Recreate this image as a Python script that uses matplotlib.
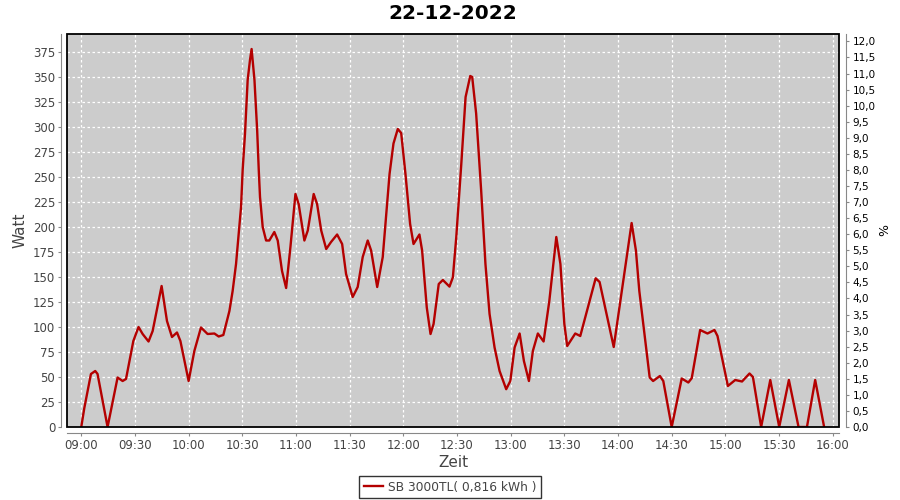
import numpy as np
import pandas as pd
import matplotlib
matplotlib.use('Agg')
import matplotlib.pyplot as plt
import matplotlib.dates as mdates
from matplotlib.patches import Rectangle
from matplotlib.ticker import MultipleLocator, FuncFormatter

# data: minutes after 09:00 and power in Watt
minutes = [0, 1.7, 5.4, 7.8, 9.1, 14.7, 20.3, 23.1, 25.0, 29.1, 32.0, 34.3, 37.6, 39.9,
           44.9, 47.9, 50.7, 53.5, 55.4, 60.0, 63.2, 66.9, 70.6, 74.4, 76.8, 79.4,
           82.8, 84.6, 86.5, 89.3, 90.2, 91.5, 93.0, 94.3, 95.2, 96.8, 98.3, 99.2,
           99.9, 101.4, 103.3, 105.1, 107.9, 109.8, 112.2, 114.5, 116.9, 119.7, 121.5,
           124.7, 126.6, 129.9, 131.8, 134.1, 136.9, 139.6, 143.0, 145.8, 148.0, 151.7,
           154.5, 157.3, 160.1, 162.0, 165.4, 168.5, 172.3, 174.5, 176.9, 178.8, 181.2,
           183.8, 185.7, 189.0, 190.5, 193.1, 195.2, 196.9, 199.8, 202.1, 205.8, 207.7,
           209.6, 212.4, 214.8, 217.4, 218.5, 220.7, 223.5, 225.9, 228.2, 231.0, 233.8,
           237.5, 239.8, 242.2, 245.0, 247.4, 250.2, 252.4, 255.2, 258.4, 261.6, 265.5,
           267.8, 270.0, 271.6, 276.1, 278.9, 284.0, 287.5, 289.7, 297.6, 302.7, 307.6,
           310.0, 311.9, 317.7, 319.6, 323.4, 325.3, 330.0, 335.6, 339.3, 341.2, 345.9,
           350.0, 353.9, 355.6, 361.4, 365.5, 369.3, 373.5, 375.4, 380.0, 385.1, 390.1,
           395.5, 400.9, 405.6, 410.2, 415.2]
watt = [0, 19, 53, 56, 53, 0, 49.5, 46, 48, 86, 100, 93, 85.5, 96,
        141, 106, 90, 94.5, 86, 46, 76, 99.5, 93, 93.5, 90.5, 92,
        116, 136, 163, 220, 257, 293, 347, 367, 378, 347, 297, 257,
        230, 200, 186.5, 186.5, 195, 186.5, 156, 139, 180, 233, 223,
        186.5, 196.5, 233, 223, 196.5, 178, 185, 192.5, 183, 153, 130,
        140, 170, 186.5, 176.5, 140, 170, 253, 283.5, 298, 294, 253,
        203, 183, 192.5, 176.5, 119.6, 93, 103, 143, 147, 140.4, 149.7,
        190, 263, 330, 351, 350, 313.5, 236.6, 163, 113, 79.5, 56,
        37.8, 46, 79.5, 93.5, 66, 46, 76, 93.5, 85.5, 126, 190,
        163, 103, 81, 93.5, 91, 125, 148.7, 145, 80, 143, 204,
        176.5, 136, 49.5, 46, 51, 46, 0, 48.5, 44.5, 48.8, 97,
        93.5, 97, 91, 41, 47, 45.5, 53.5, 50, 0, 47, 0,
        47, 0, 0, 47, 0]

title = '22-12-2022'
series_label = 'SB 3000TL( 0,816 kWh )'

base = pd.Timestamp('2022-12-22 09:00')
times = base + pd.to_timedelta(minutes, unit='min')

fig = plt.figure(figsize=(9, 5), dpi=100)
ax = fig.add_axes([0.0744, 0.146, 0.8582, 0.786])
ax.set_facecolor('#cccccc')

ax.plot(times, watt, color='#b40000', linewidth=1.7, label=series_label, zorder=3)

# black plot border on top of the line, so values at 0 sit under it
ax.add_patch(Rectangle((0, 0), 1, 1, transform=ax.transAxes, fill=False,
                       edgecolor='black', linewidth=1.3, zorder=5, clip_on=False))

ax.set_xlim(base - pd.Timedelta(minutes=8), base + pd.Timedelta(minutes=423.7))
ax.set_ylim(0, 393)
ax.yaxis.set_major_locator(MultipleLocator(25))
ax.xaxis.set_major_locator(mdates.MinuteLocator(byminute=[0, 30]))
ax.xaxis.set_major_formatter(mdates.DateFormatter('%H:%M'))
ax.grid(True, color='white', linestyle=(0, (2, 2)), linewidth=0.9)
ax.set_axisbelow(True)

for s in ['top', 'right']:
    ax.spines[s].set_visible(False)
for s in ['left', 'bottom']:
    ax.spines[s].set_position(('outward', 4))
    ax.spines[s].set_color('#888888')
ax.tick_params(axis='both', colors='#888888', labelcolor='#444444', labelsize=8.5,
               length=2.5, width=0.8, pad=2)

ax.set_ylabel('Watt', fontsize=11, color='#444444', labelpad=4)
ax.set_xlabel('Zeit', fontsize=11, color='#444444', labelpad=2)
ax.set_title(title, fontsize=14.5, fontweight='bold', pad=11)

# right axis in percent
ax2 = ax.twinx()
ax2.set_ylim(0, 12.23)
ax2.yaxis.set_major_locator(MultipleLocator(0.5))
ax2.yaxis.set_major_formatter(FuncFormatter(lambda v, p: f'{v:.1f}'.replace('.', ',')))
for s in ['top', 'left', 'bottom']:
    ax2.spines[s].set_visible(False)
ax2.spines['right'].set_position(('outward', 5))
ax2.spines['right'].set_color('#888888')
ax2.tick_params(axis='y', colors='#888888', labelcolor='black', labelsize=7.5,
                length=2.5, width=0.8, pad=2)
ax2.set_ylabel('%', fontsize=9, labelpad=2)

leg = fig.legend(loc='center', bbox_to_anchor=(0.5, 0.026), fontsize=8.8,
                 frameon=True, fancybox=False, edgecolor='black',
                 handlelength=1.6, handletextpad=0.4, borderpad=0.35)
leg.get_frame().set_linewidth(1)
for t in leg.get_texts():
    t.set_color('#444444')

fig.savefig('out.png', dpi=100, facecolor='white')
